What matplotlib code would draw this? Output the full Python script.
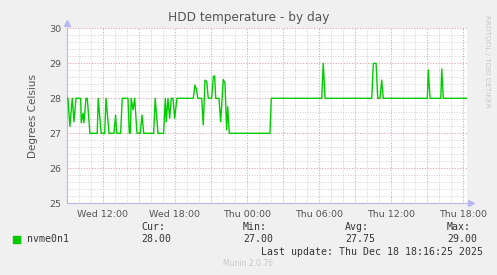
import matplotlib
matplotlib.use('Agg')
import matplotlib.pyplot as plt
from matplotlib.ticker import MultipleLocator, FuncFormatter
from matplotlib.patches import Rectangle

# hours since Wed 00:00
hours = [9.03, 9.11, 9.27, 9.47, 9.61, 9.78, 10.17, 10.22, 10.36, 10.44, 10.61, 10.72,
         10.94, 11.55, 11.63, 11.88, 12.17, 12.28, 12.53, 12.94, 13.08, 13.17, 13.50,
         13.63, 14.11, 14.22, 14.30, 14.38, 14.53, 14.67, 14.86, 15.13, 15.28, 15.42,
         16.25, 16.38, 16.61, 17.08, 17.22, 17.30, 17.44, 17.58, 17.72, 17.86, 18.00,
         18.19, 19.55, 19.69, 19.83, 19.92, 20.25, 20.38, 20.53, 20.67, 20.80, 21.08,
         21.22, 21.33, 21.42, 21.69, 21.83, 22.05, 22.19, 22.33, 22.42, 22.55, 25.94,
         26.05, 30.25, 30.38, 30.53, 34.42, 34.55, 34.78, 34.92, 35.11, 35.25, 35.38,
         39.05, 39.13, 39.28, 40.17, 40.25, 40.38, 42.33]
temps = [28, 28, 27.2, 28, 27.33, 28, 28, 27.3, 27.57, 27.3, 28, 28,
         27, 27, 28, 27, 27, 28, 27, 27, 27.52, 27, 27,
         28, 28, 27, 27, 28, 27.67, 28, 27, 27, 27.52, 27,
         27, 28, 27, 27, 28, 27.33, 28, 27.43, 28, 28, 27.43,
         28, 28, 28.38, 28.24, 28, 28, 27.24, 28.52, 28.48, 28, 28,
         28.62, 28.64, 28, 28, 27.33, 28.54, 28.43, 27.1, 27.76, 27, 27,
         28, 28, 29, 28, 28, 29, 29, 28, 28, 28.52, 28,
         28, 28.81, 28, 28, 28.84, 28, 28]

tick_hours = [12, 18, 24, 30, 36, 42]
tick_labels = ['Wed 12:00', 'Wed 18:00', 'Thu 00:00', 'Thu 06:00', 'Thu 12:00', 'Thu 18:00']

series_name = 'nvme0n1'
stat_names = ['Cur:', 'Min:', 'Avg:', 'Max:']
stat_values = [28.00, 27.00, 27.75, 29.00]

fig = plt.figure(figsize=(4.97, 2.75), dpi=100, facecolor='#f0f0f0')
ax = fig.add_axes([67/497, 1 - 203.3/275, 399.7/497, 175/275])
ax.set_facecolor('white')

ax.plot(hours, temps, color='#00cc00', lw=1.0, zorder=3)

ax.set_xlim(9.03, 42.33)
ax.set_ylim(25, 30)

ax.xaxis.set_major_locator(MultipleLocator(3))
ax.xaxis.set_minor_locator(MultipleLocator(1))
lab = dict(zip(tick_hours, tick_labels))
ax.xaxis.set_major_formatter(FuncFormatter(lambda v, p: lab.get(int(round(v)), '')))
ax.yaxis.set_major_locator(MultipleLocator(1))
ax.yaxis.set_minor_locator(MultipleLocator(0.2))
ax.yaxis.set_major_formatter(FuncFormatter(lambda v, p: '%d' % v))

ax.grid(which='major', color='#eb9a9a', linestyle=(0, (1, 1.6)), lw=0.75)
ax.grid(which='minor', color='#cfcfcf', linestyle=(0, (1, 1.6)), lw=0.7)
ax.set_axisbelow(True)

ax.tick_params(which='both', length=0, labelsize=6.8, colors='#555555', pad=4)
ax.tick_params(axis='x', pad=5)

for s in ['top', 'right']:
    ax.spines[s].set_visible(False)
for s in ['left', 'bottom']:
    ax.spines[s].set_color('#b8b8f0')
    ax.spines[s].set_linewidth(0.8)
ax.plot([0], [1.03], marker='^', color='#b8b8f0', ms=4, transform=ax.transAxes, clip_on=False)
ax.plot([1.012], [0], marker='>', color='#b8b8f0', ms=4, transform=ax.transAxes, clip_on=False)

ax.set_ylabel('Degrees Celsius', fontsize=7.5, color='#555555', labelpad=8)
fig.text(0.5, 1 - 18/275, 'HDD temperature - by day', ha='center', va='center',
         fontsize=8.7, color='#555555')
fig.text(487/497, 1 - 15/275, 'RRDTOOL / TOBI OETIKER', rotation=270, ha='center', va='top',
         fontsize=5.2, color='#c8c8c8')

mono = 'DejaVu Sans Mono'
fig.patches.append(Rectangle((13/497, 1 - 243/275), 7/497, 7/275, transform=fig.transFigure,
                             color='#00cc00', figure=fig))
fig.text(27/497, 1 - 239.5/275, series_name, fontsize=7.1, family=mono, color='#333333', va='center')
stat_x = [141, 243, 345, 447]
for x, n, v in zip(stat_x, stat_names, stat_values):
    fig.text(x/497, 1 - 227.5/275, n, fontsize=7.1, family=mono, color='#333333', va='center')
    fig.text(x/497, 1 - 239.5/275, '%.2f' % v, fontsize=7.1, family=mono, color='#333333', va='center')
fig.text(483/497, 1 - 252/275, 'Last update: Thu Dec 18 18:16:25 2025', fontsize=7.1, family=mono,
         color='#333333', va='center', ha='right')
fig.text(248/497, 1 - 264/275, 'Munin 2.0.76', fontsize=5.5, color='#c8c8c8', ha='center', va='center')

fig.savefig('out.png', dpi=100, facecolor=fig.get_facecolor())
